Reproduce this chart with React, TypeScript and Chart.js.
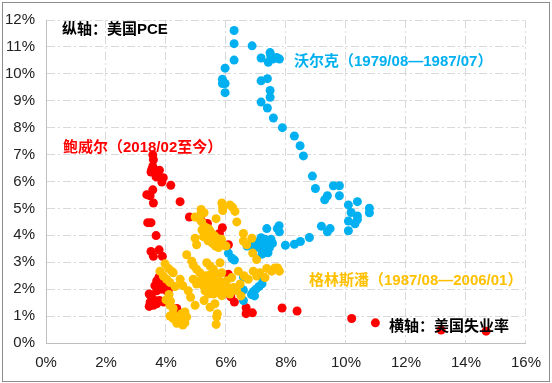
import React, { useEffect, useRef } from "react";
import { Chart, registerables } from "chart.js";

Chart.register(...registerables);

// 沃尔克 (1979/08—1987/07): unemployment %, PCE %
const volckerUnemp = [6.27, 6.27, 6.87, 6.27, 7.47, 7.49, 7.56, 7.41, 7.69, 7.78, 7.17, 5.97, 5.88, 5.97, 5.88, 5.97, 7.17, 7.38, 7.47, 7.47, 7.17, 7.38, 7.58, 7.88, 8.28, 8.47, 8.58, 8.88, 8.98, 9.58, 9.78, 9.38, 9.29, 9.78, 10.08, 10.38, 10.78, 10.78, 10.17, 10.38, 10.38, 10.3, 10.08, 10.08, 9.18, 9.47, 9.38, 8.78, 8.48, 8.28, 7.98, 7.77, 7.71, 7.78, 7.36, 7.17, 7.0, 7.1, 7.2, 7.3, 7.35, 7.4, 7.25, 7.45, 7.5, 7.55, 7.3, 6.9, 6.7, 7.05, 7.4, 7.2, 6.08, 6.2, 6.28, 6.58, 6.58, 6.58, 6.85, 6.9, 7.0, 7.1, 7.2, 7.2, 6.95];
const volckerPce = [11.61, 11.12, 11.04, 10.51, 10.79, 10.67, 10.55, 10.43, 10.61, 10.55, 10.59, 10.21, 9.8, 9.64, 9.64, 9.3, 9.74, 9.82, 9.38, 9.13, 8.95, 8.73, 8.36, 8.0, 7.69, 7.33, 6.95, 6.2, 5.74, 5.84, 5.84, 5.47, 5.32, 5.47, 5.13, 5.25, 5.01, 4.84, 4.85, 4.72, 4.59, 4.43, 4.53, 4.17, 4.34, 4.25, 4.13, 3.92, 3.77, 3.67, 3.63, 4.36, 4.25, 4.13, 4.25, 3.91, 3.6, 3.55, 3.7, 3.6, 3.45, 3.7, 3.4, 3.55, 3.85, 3.7, 3.85, 3.6, 3.6, 3.75, 3.35, 3.3, 3.34, 3.15, 3.08, 2.45, 1.97, 1.58, 1.8, 1.9, 2.0, 2.1, 2.2, 2.45, 1.75];

// 格林斯潘 (1987/08—2006/01)
const greenspanUnemp = [5.17, 5.17, 5.27, 5.86, 5.89, 5.89, 6.13, 6.22, 6.3, 6.36, 4.97, 5.11, 5.67, 5.19, 5.3, 5.41, 5.2, 5.3, 5.35, 5.45, 5.5, 5.6, 5.7, 5.8, 5.9, 5.25, 5.4, 5.55, 5.65, 5.75, 5.5, 5.6, 5.7, 5.85, 6.0, 5.45, 4.97, 5.02, 6.58, 4.69, 4.86, 4.91, 5.02, 5.13, 5.24, 5.36, 5.47, 5.58, 5.8, 5.86, 5.69, 3.97, 4.08, 4.19, 3.8, 3.91, 4.02, 4.13, 4.24, 4.47, 4.56, 4.91, 5.02, 5.13, 5.24, 5.36, 5.47, 5.58, 5.69, 5.8, 5.91, 6.02, 5.3, 5.41, 5.58, 5.74, 5.86, 5.45, 5.55, 5.65, 5.35, 5.5, 5.75, 5.95, 4.74, 4.82, 4.97, 5.27, 5.47, 5.63, 5.71, 5.69, 5.67, 4.13, 4.24, 4.13, 4.24, 4.36, 4.47, 4.56, 4.36, 4.63, 4.69, 4.52, 4.63, 4.24, 6.02, 6.24, 6.47, 6.36, 6.13, 6.19, 6.41, 6.91, 7.02, 7.13, 7.36, 7.52, 7.63, 6.74, 7.3, 7.02, 6.89, 6.58, 6.69, 6.86, 7.72, 7.78, 4.0, 4.1, 4.3, 4.15, 6.5, 6.6];
const greenspanPce = [4.96, 4.8, 4.84, 5.2, 5.04, 4.92, 5.13, 5.04, 4.89, 4.5, 4.68, 4.62, 4.62, 4.5, 4.31, 4.25, 4.2, 4.1, 4.0, 3.95, 3.85, 3.8, 3.75, 3.7, 3.65, 3.95, 3.8, 3.7, 3.6, 3.55, 4.1, 4.0, 3.9, 3.85, 3.6, 4.2, 3.89, 3.65, 4.07, 3.28, 3.04, 2.89, 2.74, 2.61, 2.49, 2.98, 2.86, 2.74, 2.98, 2.61, 2.55, 2.94, 2.77, 2.67, 2.67, 2.49, 2.37, 2.25, 2.61, 2.37, 2.13, 2.37, 2.19, 2.31, 2.13, 2.25, 2.06, 2.19, 2.01, 2.13, 1.94, 2.06, 1.94, 1.82, 1.82, 1.88, 1.76, 2.4, 2.35, 2.3, 2.5, 2.55, 2.35, 2.25, 1.94, 1.7, 1.4, 1.58, 1.33, 1.46, 1.09, 0.97, 0.69, 1.4, 1.28, 1.0, 0.91, 0.87, 0.79, 0.67, 0.73, 0.75, 0.97, 1.09, 1.15, 1.09, 2.31, 2.06, 2.19, 1.94, 1.82, 2.43, 2.67, 2.67, 2.49, 2.61, 2.77, 2.67, 2.79, 2.37, 2.43, 3.1, 3.34, 3.79, 3.65, 3.89, 2.79, 2.67, 1.6, 1.8, 2.1, 1.55, 1.75, 2.5];

// 鲍威尔 (2018/02至今)
const powellUnemp = [3.56, 3.58, 3.56, 3.52, 3.6, 3.69, 3.78, 3.5, 3.67, 3.91, 3.86, 4.16, 3.56, 3.36, 3.47, 3.58, 4.47, 3.39, 3.5, 3.67, 4.78, 5.17, 5.38, 5.88, 5.78, 6.08, 3.5, 3.58, 3.77, 3.88, 6.08, 3.77, 3.69, 3.8, 3.63, 3.91, 3.86, 3.69, 4.02, 4.08, 3.44, 3.52, 3.47, 3.6, 3.69, 3.78, 3.93, 3.44, 3.58, 4.36, 6.16, 6.28, 6.67, 6.67, 6.88, 7.87, 8.37, 10.19, 10.98, 13.17, 14.67];
const powellPce = [6.99, 6.81, 6.56, 6.44, 6.35, 6.32, 6.42, 6.35, 6.17, 6.14, 5.98, 5.86, 5.69, 5.51, 5.47, 5.2, 5.25, 4.47, 4.47, 3.99, 4.68, 4.56, 4.44, 4.28, 4.07, 3.65, 3.4, 3.22, 3.46, 3.22, 2.55, 2.45, 2.31, 2.25, 2.13, 2.15, 2.0, 1.94, 1.94, 1.97, 1.82, 1.7, 1.52, 1.6, 1.46, 1.58, 1.52, 1.36, 1.4, 1.28, 1.72, 1.52, 1.31, 1.09, 1.12, 1.3, 1.19, 0.91, 0.75, 0.48, 0.44];

const xTicks = [0, 2, 4, 6, 8, 10, 12, 14, 16];
const yTicks = [0, 1, 2, 3, 4, 5, 6, 7, 8, 9, 10, 11, 12];

const noteTexts = [
  "纵轴：美国PCE",
  "沃尔克（1979/08—1987/07）",
  "鲍威尔（2018/02至今）",
  "格林斯潘（1987/08—2006/01）",
  "横轴：美国失业率",
];
const noteColors = ["#000000", "#00B0F0", "#FF0000", "#FFC000", "#000000"];
const notePos = [
  [62, 30],
  [294, 62],
  [63, 148],
  [309, 281],
  [389, 327],
];

const toPts = (xs: number[], ys: number[]) => xs.map((x, i) => ({ x, y: ys[i] }));

const TICK_FONT = "'Liberation Sans Narrow', 'Liberation Sans', Arial, sans-serif";

export default function App() {
  const ref = useRef<HTMLCanvasElement | null>(null);
  useEffect(() => {
    if (!ref.current) return;
    const notesPlugin = {
      id: "notes",
      afterDatasetsDraw(chart: any) {
        const ctx = chart.ctx;
        ctx.save();
        ctx.font = "bold 15px 'Liberation Sans', 'Noto Sans CJK SC', sans-serif";
        ctx.textBaseline = "middle";
        ctx.textAlign = "left";
        noteTexts.forEach((t, i) => {
          ctx.fillStyle = noteColors[i];
          ctx.fillText(t, notePos[i][0], notePos[i][1]);
        });
        ctx.restore();
      },
    };
    const ds = (label: string, pts: any[], color: string) => ({
      label,
      data: pts,
      backgroundColor: color,
      borderColor: color,
      borderWidth: 0,
      pointRadius: 4.5,
      pointHoverRadius: 4.5,
      showLine: false,
    });
    const chart = new Chart(ref.current, {
      type: "scatter",
      data: {
        datasets: [
          ds("格林斯潘", toPts(greenspanUnemp, greenspanPce), "#FFC000"),
          ds("沃尔克", toPts(volckerUnemp, volckerPce), "#00B0F0"),
          ds("鲍威尔", toPts(powellUnemp, powellPce), "#FF0000"),
        ],
      },
      options: {
        animation: false,
        responsive: false,
        events: [],
        layout: { padding: { top: 14, right: 26, left: 0, bottom: 0 } },
        plugins: { legend: { display: false }, tooltip: { enabled: false } },
        scales: {
          x: {
            type: "linear",
            min: 0,
            max: 16,
            afterFit: (s: any) => {
              s.height = 40;
            },
            afterBuildTicks: (s: any) => {
              s.ticks = xTicks.map((v) => ({ value: v }));
            },
            ticks: {
              padding: 11,
              color: "#222",
              font: { family: TICK_FONT, size: 15 },
              callback: (v: any) => v + "%",
            },
            grid: { color: "#d9d9d9", lineWidth: 1, drawTicks: false },
            border: { display: true, color: "#bfbfbf", width: 1, dash: [8, 3, 2, 3] },
          },
          y: {
            type: "linear",
            min: 0,
            max: 12,
            afterFit: (s: any) => {
              s.width = 46;
            },
            afterBuildTicks: (s: any) => {
              s.ticks = yTicks.map((v) => ({ value: v }));
            },
            ticks: {
              padding: 11,
              color: "#222",
              font: { family: TICK_FONT, size: 15 },
              callback: (v: any) => v + "%",
            },
            grid: { color: "#d9d9d9", lineWidth: 1, drawTicks: false },
            border: { display: true, color: "#bfbfbf", width: 1, dash: [8, 3, 2, 3] },
          },
        },
      },
      plugins: [notesPlugin],
    } as any);
    return () => chart.destroy();
  }, []);
  return (
    <div style={{ position: "absolute", left: 0, top: 0, width: 552, height: 383, background: "#fff" }}>
      <canvas ref={ref} width={552} height={383} style={{ width: 552, height: 383, display: "block" }} />
      <div
        style={{
          position: "absolute",
          left: 2,
          top: 2,
          width: 546,
          height: 378,
          border: "1px solid #8c8c8c",
          pointerEvents: "none",
        }}
      />
    </div>
  );
}
